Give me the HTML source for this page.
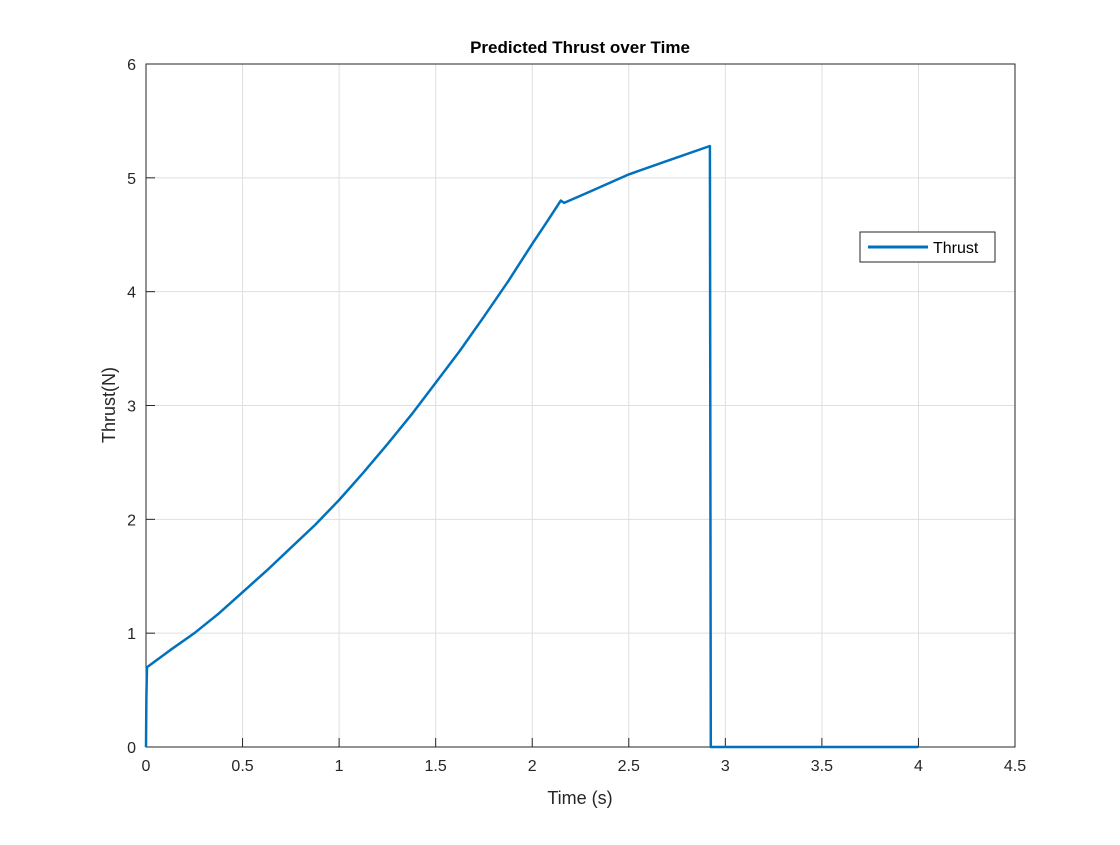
<!DOCTYPE html>
<html><head><meta charset="utf-8"><style>
body{margin:0;background:#fff}
svg text{font-family:"Liberation Sans",sans-serif;fill:#262626}
</style></head><body>
<svg id="chart" width="1120" height="840" xmlns="http://www.w3.org/2000/svg">
<rect width="1120" height="840" fill="#fff"/>
<g id="grid"></g>
<g id="axes"></g>
<g id="series"></g>
<text x="580" y="53" text-anchor="middle" font-size="17" font-weight="bold" style="fill:#000">Predicted Thrust over Time</text>
<text x="580" y="804" text-anchor="middle" font-size="18">Time (s)</text>
<text transform="translate(115,405) rotate(-90)" text-anchor="middle" font-size="18">Thrust(N)</text>
<g>
<rect x="860" y="232" width="135" height="30" fill="#fff" stroke="#262626" stroke-width="1"/>
<line x1="868" y1="247" x2="928" y2="247" stroke="#0072BD" stroke-width="3"/>
<text x="933" y="253" font-size="16" style="fill:#000">Thrust</text>
</g>
</svg>
<script>
const xTicks=[0,0.5,1,1.5,2,2.5,3,3.5,4,4.5];
const yTicks=[0,1,2,3,4,5,6];
const timeVals=[0,0.002,0.005,0.125,0.25,0.375,0.5,0.625,0.75,0.875,1,1.125,1.25,1.375,1.5,1.625,1.75,1.875,2,2.075,2.148,2.165,2.3,2.5,2.7,2.92,2.925,4.0];
const thrustVals=[0,0.45,0.7,0.85,1.0,1.17,1.36,1.55,1.75,1.95,2.17,2.41,2.66,2.92,3.2,3.48,3.78,4.09,4.42,4.61,4.80,4.78,4.88,5.03,5.15,5.28,0,0];
const L=146,R=1015,T=64,B=747;
const xs=v=>L+(v-0)/(4.5-0)*(R-L);
const ys=v=>B-(v-0)/(6-0)*(B-T);
const NS="http://www.w3.org/2000/svg";
const grid=document.getElementById('grid'),axes=document.getElementById('axes'),series=document.getElementById('series');
function mk(tag,attrs,parent){const e=document.createElementNS(NS,tag);for(const k in attrs)e.setAttribute(k,attrs[k]);parent.appendChild(e);return e;}
xTicks.forEach(v=>{
 const g=mk('line',{x1:xs(v),x2:xs(v),y1:T,y2:B,stroke:'#dfdfdf','stroke-width':1},grid);
 
 
 const tk=mk('line',{x1:xs(v),x2:xs(v),y1:B,y2:B-9,stroke:'#262626','stroke-width':1},axes);
 
 
 const t=mk('text',{x:xs(v),y:B+24,'text-anchor':'middle','font-size':16},axes);
 t.textContent=String(v);
 
 
});
yTicks.forEach(v=>{
 const g=mk('line',{x1:L,x2:R,y1:ys(v),y2:ys(v),stroke:'#dfdfdf','stroke-width':1},grid);
 
 
 const tk=mk('line',{x1:L,x2:L+9,y1:ys(v),y2:ys(v),stroke:'#262626','stroke-width':1},axes);
 
 
 const t=mk('text',{x:L-10,y:ys(v)+6,'text-anchor':'end','font-size':16},axes);
 t.textContent=String(v);
 
 
});
const frame=mk('rect',{x:L,y:T,width:R-L,height:B-T,fill:'none',stroke:'#262626','stroke-width':1},axes);


const pts=timeVals.map((t,i)=>xs(t).toFixed(1)+','+ys(thrustVals[i]).toFixed(1)).join(' ');
const line=mk('polyline',{points:pts,fill:'none',stroke:'#0072BD','stroke-width':2.5,'stroke-linejoin':'round'},series);


</script>
</body></html>
